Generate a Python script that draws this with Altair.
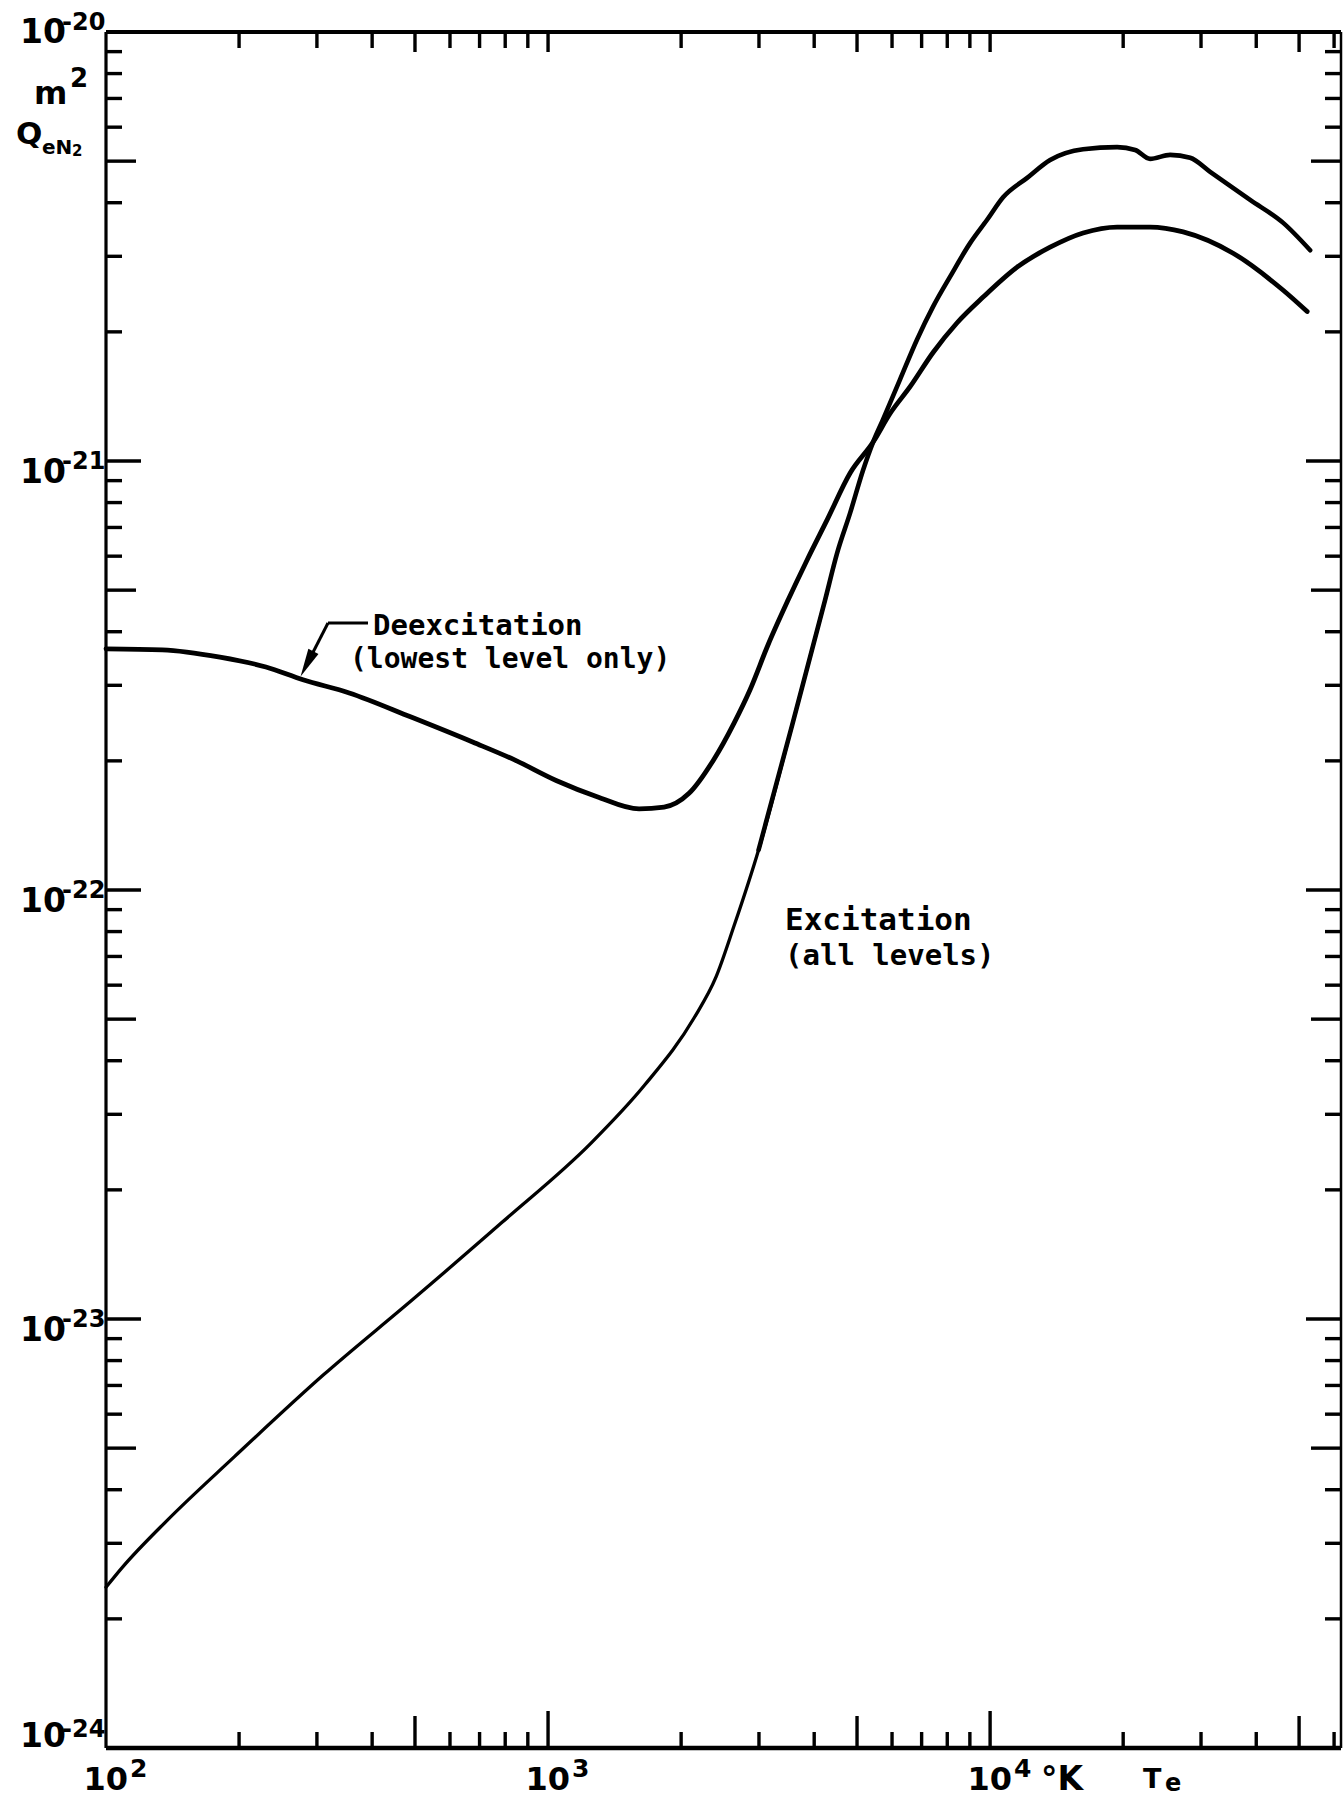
import altair as alt
import pandas as pd

# Electron temperature Te (K) and cross sections Q_eN2 (m^2)
deex_T = [100, 134, 181, 230, 279, 355, 490, 677, 840, 1043,
          1291, 1607, 1830, 2084, 2368, 2635, 2864, 3146, 3491, 3855,
          4278, 4824, 5437, 5939, 6592, 7430, 8422, 9643, 11510, 13670,
          16230, 19380, 23010, 27340, 35460, 46030, 52150]
deex_Q = [3.65e-22, 3.63e-22, 3.49e-22, 3.31e-22, 3.09e-22, 2.88e-22, 2.53e-22, 2.21e-22, 2.01e-22, 1.80e-22,
          1.65e-22, 1.545e-22, 1.56e-22, 1.68e-22, 2.01e-22, 2.45e-22, 2.93e-22, 3.73e-22, 4.74e-22, 5.88e-22,
          7.29e-22, 9.38e-22, 1.107e-21, 1.29e-21, 1.49e-21, 1.79e-21, 2.10e-21, 2.41e-21, 2.83e-21, 3.15e-21,
          3.40e-21, 3.51e-21, 3.51e-21, 3.42e-21, 3.05e-21, 2.50e-21, 2.23e-21]

exc_T = [100, 109, 137, 195, 310, 494, 787, 1251, 1654, 2139,
         2399, 2635, 2994, 3565, 4233, 4507, 4824, 5161, 5437, 5726,
         6257, 6836, 7430, 8120, 9010, 9845, 10700, 12130, 13670, 16230,
         19380, 21290, 23010, 25540, 28350, 31460, 38740, 46030, 52970]
exc_Q = [2.37e-24, 2.64e-24, 3.38e-24, 4.77e-24, 7.40e-24, 1.11e-23, 1.68e-23, 2.57e-23, 3.51e-23, 5.03e-23,
         6.27e-23, 8.25e-23, 1.24e-22, 2.42e-22, 4.74e-22, 6.10e-22, 7.57e-22, 9.53e-22, 1.107e-21, 1.25e-21,
         1.55e-21, 1.92e-21, 2.29e-21, 2.69e-21, 3.22e-21, 3.65e-21, 4.12e-21, 4.57e-21, 5.03e-21, 5.33e-21,
         5.39e-21, 5.31e-21, 5.06e-21, 5.17e-21, 5.09e-21, 4.72e-21, 4.06e-21, 3.59e-21, 3.10e-21]

# Tick positions
x_minor = [200, 300, 400, 600, 700, 800, 900, 2000, 3000, 4000, 6000, 7000, 8000, 9000,
           20000, 30000, 40000, 60000]
x_half = [500, 5000, 50000]
x_decade = [1000, 10000]
y_decades = [-24, -23, -22, -21]
y_minor = [m * 10.0 ** e for e in y_decades for m in (2, 3, 4, 6, 7, 8, 9)]
y_half = [5 * 10.0 ** e for e in y_decades]
y_decade = [1e-23, 1e-22, 1e-21]

# Tick labels
x_label_T = [100, 1000, 10000]
x_label_exp = ["2", "3", "4"]
y_label_Q = [1e-20, 1e-21, 1e-22, 1e-23, 1e-24]
y_label_exp = ["-20", "-21", "-22", "-23", "-24"]

W, H = 1235, 1716
INK = "black"
NUM_FONT = "DejaVu Sans"
TXT_FONT = "DejaVu Sans Mono"

xs = alt.Scale(type="log", domain=[100, 62200], nice=False)
ys = alt.Scale(type="log", domain=[1e-24, 1e-20], nice=False)

one = pd.DataFrame({"k": [0]})
layers = []

# frame
for (x1, x2, y1, y2, w) in [(0, W, H, H, 4.5), (0, W, 0, 0, 3.8), (0, 0, 0, H, 3.2), (W, W, 0, H, 2.5)]:
    layers.append(alt.Chart(one).mark_rule(color=INK, strokeWidth=w).encode(
        x=alt.value(x1), x2=alt.value(x2), y=alt.value(y1), y2=alt.value(y2)))

# inward ticks
for vals, length in [(x_minor, 16), (x_half, 32), (x_decade, 37)]:
    df = pd.DataFrame({"T": vals})
    layers.append(alt.Chart(df).mark_rule(color=INK, strokeWidth=3.4).encode(
        x=alt.X("T:Q", scale=xs, axis=None), y=alt.value(H), y2=alt.value(H - length)))
    layers.append(alt.Chart(df).mark_rule(color=INK, strokeWidth=3.4).encode(
        x=alt.X("T:Q", scale=xs, axis=None), y=alt.value(0), y2=alt.value(min(length, 20))))

for vals, length in [(y_minor, 16), (y_half, 30), (y_decade, 35)]:
    df = pd.DataFrame({"Q": vals})
    layers.append(alt.Chart(df).mark_rule(color=INK, strokeWidth=3.4).encode(
        y=alt.Y("Q:Q", scale=ys, axis=None), x=alt.value(0), x2=alt.value(length)))
    layers.append(alt.Chart(df).mark_rule(color=INK, strokeWidth=3.4).encode(
        y=alt.Y("Q:Q", scale=ys, axis=None), x=alt.value(W), x2=alt.value(W - length)))

# curves: the excitation line is drawn heavier above the crossing
deex = pd.DataFrame({"T": deex_T, "Q": deex_Q})
exc = pd.DataFrame({"T": exc_T, "Q": exc_Q})
exc_low = exc[exc["T"] <= 4233]
exc_high = exc[exc["T"] >= 2994]
for df, w in [(deex, 4.8), (exc_low, 3.3), (exc_high, 4.6)]:
    layers.append(alt.Chart(df).mark_line(color=INK, strokeWidth=w, interpolate="monotone",
                                          strokeCap="round", strokeJoin="round").encode(
        x=alt.X("T:Q", scale=xs, axis=None),
        y=alt.Y("Q:Q", scale=ys, axis=None),
        order="T:Q"))

# x tick labels
xl = pd.DataFrame({"T": x_label_T, "base": ["10"] * 3, "exp": x_label_exp})
layers.append(alt.Chart(xl).mark_text(align="right", baseline="alphabetic", dx=22, font=NUM_FONT,
                                      fontSize=32, fontWeight="bold", color=INK).encode(
    x=alt.X("T:Q", scale=xs, axis=None), y=alt.value(H + 42), text="base:N"))
layers.append(alt.Chart(xl).mark_text(align="left", baseline="alphabetic", dx=24, font=NUM_FONT,
                                      fontSize=25, fontWeight="bold", color=INK).encode(
    x=alt.X("T:Q", scale=xs, axis=None), y=alt.value(H + 29), text="exp:N"))

# y tick labels
yl = pd.DataFrame({"Q": y_label_Q, "base": ["10"] * 5, "exp": y_label_exp})
groups = [(yl.iloc[[0]], 11, -2), (yl.iloc[1:4], 22, 8), (yl.iloc[[4]], -1, -11)]
for df, dy_base, dy_exp in groups:
    layers.append(alt.Chart(df).mark_text(align="right", baseline="alphabetic", dy=dy_base, font=NUM_FONT,
                                          fontSize=33, fontWeight="bold", color=INK).encode(
        y=alt.Y("Q:Q", scale=ys, axis=None), x=alt.value(-40), text="base:N"))
    layers.append(alt.Chart(df).mark_text(align="left", baseline="alphabetic", dy=dy_exp, font=NUM_FONT,
                                          fontSize=24, fontWeight="bold", color=INK).encode(
        y=alt.Y("Q:Q", scale=ys, axis=None), x=alt.value(-44), text="exp:N"))


def label(txt, x, y, size, font=NUM_FONT, align="left"):
    return alt.Chart(one).mark_text(text=txt, align=align, baseline="alphabetic", font=font,
                                    fontSize=size, fontWeight="bold", color=INK).encode(
        x=alt.value(x), y=alt.value(y))


# axis titles (positions relative to the plot origin)
layers += [
    label("m", -72, 72, 32),
    label("2", -36, 55, 26),
    label("Q", -90, 112, 31),
    label("eN", -64, 122, 20),
    label("2", -34, 124, 15),
    label("°K", 935, H + 42, 33),
    label("T", 1037, H + 40, 27),
    label("e", 1059, H + 43, 24),
]

# curve annotations
layers += [
    label("Deexcitation", 267, 603, 29, TXT_FONT),
    label("(lowest level only)", 244, 636, 28, TXT_FONT),
    label("Excitation", 679, 898, 31, TXT_FONT),
    label("(all levels)", 679, 933, 29, TXT_FONT),
]

# leader with arrowhead pointing at the deexcitation curve
layers.append(alt.Chart(one).mark_rule(color=INK, strokeWidth=3).encode(
    x=alt.value(262), x2=alt.value(222), y=alt.value(591), y2=alt.value(591)))
layers.append(alt.Chart(one).mark_rule(color=INK, strokeWidth=3).encode(
    x=alt.value(222), x2=alt.value(200), y=alt.value(591), y2=alt.value(634)))
layers.append(alt.Chart(one).mark_point(shape="M0,-1L0.4,1L-0.4,1Z", filled=True, color=INK,
                                        opacity=1, size=800, angle=207).encode(
    x=alt.value(201), y=alt.value(632)))

chart = alt.layer(*layers).properties(
    width=W, height=H,
    padding={"left": 106, "top": 32, "right": 2, "bottom": 50},
    autosize=alt.AutoSizeParams(type="none"),
    background="white",
).configure_view(stroke=None)

chart.save("out.html", embed_options={"renderer": "svg", "actions": False})
